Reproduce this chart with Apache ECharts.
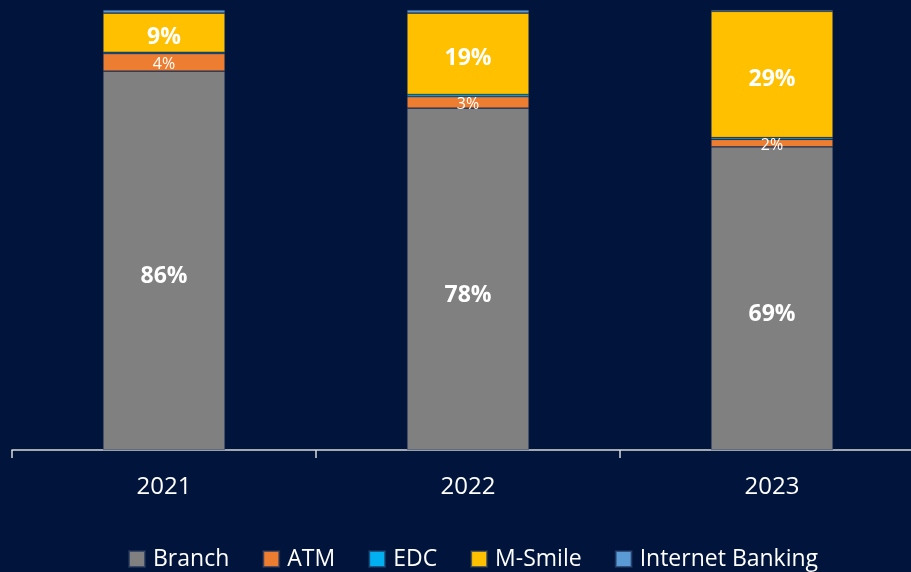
<!DOCTYPE html>
<html>
<head>
<meta charset="utf-8">
<script src="https://cdn.jsdelivr.net/npm/echarts@6/dist/echarts.min.js"></script>
<style>
  html, body { margin: 0; padding: 0; background: #00143c; overflow: hidden; }
  /* axis runs past the right edge of the frame, so the canvas is a bit wider than the window */
  #chart { width: 924px; height: 572px; }
</style>
</head>
<body>
<div id="chart"></div>
<script>
// channel share by year, percent of transactions (stacked to 100)
const years = ["2021", "2022", "2023"];
const branch = [86.1, 77.7, 68.9];
const atm = [4.0, 2.6, 1.7];
const edc = [0.3, 0.5, 0.4];
const mSmile = [8.9, 18.5, 28.7];
const internetBanking = [0.7, 0.7, 0.3];

const FONT = "'Open Sans', 'Noto Sans', sans-serif";
const pct = (p) => Math.round(p.value) + "%";

const chart = echarts.init(document.getElementById("chart"), null, { renderer: "canvas" });

function seg(name, data, color, label) {
  return {
    name,
    type: "bar",
    stack: "total",
    data,
    barWidth: 122,
    itemStyle: { color, borderColor: "rgba(30,50,90,0.7)", borderWidth: 0.6 },
    label: label || { show: false },
  };
}

chart.setOption({
  backgroundColor: "#00143c",
  animation: false,
  textStyle: { fontFamily: FONT },
  grid: { left: 12, right: 0, top: 10, bottom: 122, containLabel: false },
  legend: {
    top: 546,
    left: 128,
    padding: 0,
    itemWidth: 16,
    itemHeight: 16,
    itemGap: 33,
    icon: "rect",
    textStyle: {
      color: "#ffffff", fontSize: 23, lineHeight: 26, fontFamily: FONT,
      padding: [0, 0, 0, 3],
    },
    data: ["Branch", "ATM", "EDC", "M-Smile", "Internet Banking"],
  },
  xAxis: {
    type: "category",
    data: years,
    axisLine: { lineStyle: { color: "#d9d9d9", width: 1.5 } },
    axisTick: { show: true, length: 8, lineStyle: { color: "#d9d9d9", width: 1.5 } },
    axisLabel: { color: "#ffffff", fontSize: 24, margin: 25, fontFamily: FONT },
  },
  yAxis: {
    type: "value",
    min: 0,
    max: 100,
    show: false,
    splitLine: { show: false },
  },
  series: [
    seg("Branch", branch, "#808080", {
      show: true, position: "inside", formatter: pct, offset: [0, 16],
      color: "#fff", fontSize: 23, fontWeight: "bold", fontFamily: FONT,
    }),
    seg("ATM", atm, "#ed7d31", {
      show: true, position: "inside", formatter: pct, offset: [0, 2],
      color: "#fff", fontSize: 16, fontFamily: FONT,
    }),
    seg("EDC", edc, "#00b0f0"),
    seg("M-Smile", mSmile, "#ffc000", {
      show: true, position: "inside", formatter: pct, offset: [0, 5],
      color: "#fff", fontSize: 23, fontWeight: "bold", fontFamily: FONT,
    }),
    seg("Internet Banking", internetBanking, "#5b9bd5"),
  ],
});
</script>
</body>
</html>
